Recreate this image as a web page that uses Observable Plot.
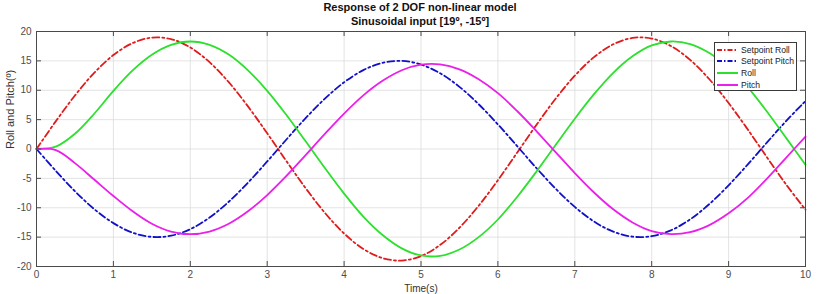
<!DOCTYPE html>
<html>
<head>
<meta charset="utf-8">
<script src="https://cdn.jsdelivr.net/npm/d3@7"></script>
<script src="https://cdn.jsdelivr.net/npm/@observablehq/plot@0.6"></script>
<style>
  html, body { margin: 0; padding: 0; background: #fff; }
  body { width: 824px; height: 294px; overflow: hidden; position: relative; font-family: "Liberation Sans", Arial, sans-serif; }
  #titles { position: absolute; left: 0; top: 0; width: 840px; text-align: center; color: #111; font-weight: bold; font-size: 11px; line-height: 14px; z-index: 2; }
  #chart { position: absolute; left: 0; top: 20px; }
  #legend { position: absolute; left: 714px; top: 42px; width: 83px; height: 49px; border: 1px solid #3a3a3a; background: #fff; box-sizing: border-box; padding-top: 1px; z-index: 2; }
  .row { height: 11.6px; display: flex; align-items: center; font-size: 8.6px; color: #222; white-space: nowrap; }
  .row svg { margin-left: 2px; margin-right: 3px; flex: none; }
</style>
</head>
<body>
<div id="titles"><div>Response of 2 DOF non-linear model</div><div>Sinusoidal input [19º, -15º]</div></div>
<div id="chart"></div>
<div id="legend"></div>
<script>
// Sample times (s)
const times = [0, 0.25, 0.5, 0.75, 1, 1.25, 1.5, 1.75, 2, 2.25, 2.5, 2.75, 3, 3.25, 3.5, 3.75, 4, 4.25, 4.5, 4.75,
  5, 5.25, 5.5, 5.75, 6, 6.25, 6.5, 6.75, 7, 7.25, 7.5, 7.75, 8, 8.25, 8.5, 8.75, 9, 9.25, 9.5, 9.75, 10];

// Angles in degrees
const setpointRoll = [0, 4.70, 9.11, 12.95, 15.99, 18.03, 18.95, 18.70, 17.28, 14.78, 11.37, 7.25, 2.68, -2.06, -6.67,
  -10.86, -14.38, -17.01, -18.57, -18.99, -18.22, -16.32, -13.40, -9.66, -5.31, -0.63, 4.09, 8.55, 12.48, 15.64,
  17.82, 18.90, 18.80, 17.53, 15.17, 11.87, 7.83, 3.31, -1.43, -6.07, -10.34];
const setpointPitch = [0, -3.71, -7.19, -10.22, -12.62, -14.24, -14.96, -14.76, -13.64, -11.67, -8.98, -5.73, -2.12,
  1.62, 5.26, 8.57, 11.35, 13.43, 14.66, 14.99, 14.38, 12.88, 10.58, 7.62, 4.19, 0.50, -3.23, -6.75, -9.86, -12.35,
  -14.07, -14.92, -14.84, -13.84, -11.98, -9.37, -6.18, -2.61, 1.13, 4.79, 8.16];
const roll = [0, 0.4, 2.6, 6.0, 9.9, 13.38, 16.05, 17.73, 18.30, 17.73, 16.07, 13.39, 9.90, 5.79, 1.31, -3.24, -7.59,
  -11.51, -14.64, -16.91, -18.12, -18.19, -17.11, -15.00, -12.00, -8.16, -3.86, 0.67, 5.16, 9.33, 12.97, 15.78,
  17.63, 18.30, 17.87, 16.34, 13.82, 10.50, 6.35, 1.85, -2.67];
const pitch = [0, -0.2, -2.4, -5.2, -8.0, -10.60, -12.72, -14.05, -14.50, -14.05, -12.73, -10.61, -7.84, -4.59, -1.04,
  2.57, 6.02, 9.12, 11.60, 13.40, 14.36, 14.41, 13.56, 11.88, 9.51, 6.47, 3.06, -0.53, -4.09, -7.40, -10.27, -12.50,
  -13.97, -14.50, -14.16, -12.95, -10.95, -8.32, -5.03, -1.46, 2.12];

const seriesNames = ["Setpoint Roll", "Setpoint Pitch", "Roll", "Pitch"];
const seriesValues = [setpointRoll, setpointPitch, roll, pitch];
const seriesColors = ["#e01b1b", "#1010c8", "#2ee02e", "#ea1fea"];
const seriesDashes = ["7,3,2,3", "7,3,2,3", null, null];

const xTicks = [0, 1, 2, 3, 4, 5, 6, 7, 8, 9, 10];
const yTicks = [-20, -15, -10, -5, 0, 5, 10, 15, 20];

const width = 824, height = 274, marginTop = 11, marginBottom = 28, marginLeft = 36, marginRight = 19;
const innerH = height - marginTop - marginBottom;
const innerW = width - marginLeft - marginRight;
const tickLen = 5;
const frameColor = "#4a4a4a";

const lineMarks = seriesNames.map((name, k) =>
  Plot.line(times.map((t, i) => ({t, v: seriesValues[k][i]})), {
    x: "t", y: "v", stroke: seriesColors[k], strokeWidth: 1.8,
    strokeDasharray: seriesDashes[k] ?? undefined, curve: "catmull-rom"
  })
);

const chart = Plot.plot({
  width, height, marginTop, marginBottom, marginLeft, marginRight,
  style: {fontFamily: "'Liberation Sans', Arial, sans-serif", fontSize: "10px", color: "#4d4d4d", background: "transparent"},
  x: {domain: [0, 10]},
  y: {domain: [-20, 20]},
  marks: [
    Plot.gridX(xTicks, {stroke: "#dcdcdc", strokeOpacity: 1, strokeWidth: 0.8}),
    Plot.gridY(yTicks, {stroke: "#dcdcdc", strokeOpacity: 1, strokeWidth: 0.8}),
    ...lineMarks,
    // inward ticks on all four sides of the box
    Plot.tickX(xTicks, {x: d => d, stroke: frameColor, insetTop: innerH - tickLen}),
    Plot.tickX(xTicks, {x: d => d, stroke: frameColor, insetBottom: innerH - tickLen}),
    Plot.tickY(yTicks, {y: d => d, stroke: frameColor, insetRight: innerW - tickLen}),
    Plot.tickY(yTicks, {y: d => d, stroke: frameColor, insetLeft: innerW - tickLen}),
    Plot.frame({stroke: frameColor, strokeWidth: 1}),
    Plot.axisX(xTicks, {tickSize: 0, tickPadding: 4, label: null, fill: "#4d4d4d", tickFormat: d => String(d)}),
    Plot.axisY(yTicks, {tickSize: 0, tickPadding: 5, label: null, fill: "#4d4d4d", tickFormat: d => String(d)}),
    Plot.text(["Time(s)"], {frameAnchor: "bottom", dy: 25, fontSize: 10, fill: "#333"}),
    Plot.text(["Roll and Pitch(º)"], {frameAnchor: "left", dx: -26, rotate: -90, fontSize: 11, fill: "#333"})
  ]
});
document.getElementById("chart").appendChild(chart);

// legend box in the upper right corner of the axes
const legend = document.getElementById("legend");
seriesNames.forEach((name, k) => {
  const row = document.createElement("div");
  row.className = "row";
  const dash = seriesDashes[k] ? `stroke-dasharray="5,2,1.5,2"` : "";
  row.innerHTML = `<svg width="21" height="6"><line x1="0" y1="3" x2="21" y2="3" stroke="${seriesColors[k]}" stroke-width="2" ${dash}/></svg><span>${name}</span>`;
  legend.appendChild(row);
});
</script>
</body>
</html>
